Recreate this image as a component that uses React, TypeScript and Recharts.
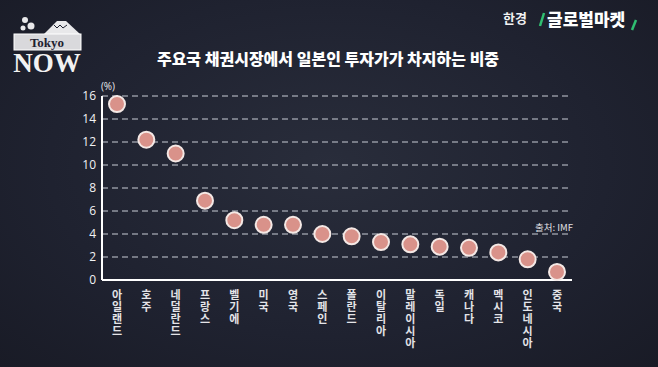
import React from 'react';
import { ComposedChart, Scatter, XAxis, YAxis, CartesianGrid } from 'recharts';

const countries = [
  '아일랜드', '호주', '네덜란드', '프랑스', '벨기에', '미국', '영국', '스페인',
  '폴란드', '이탈리아', '말레이시아', '독일', '캐나다', '멕시코', '인도네시아', '중국',
];
const shares = [15.3, 12.2, 11.0, 6.9, 5.2, 4.8, 4.8, 4.0, 3.8, 3.3, 3.1, 2.9, 2.8, 2.4, 1.8, 0.7];
const yTicks = [0, 2, 4, 6, 8, 10, 12, 14, 16];

const data = countries.map((name, i) => ({ name, value: shares[i] }));

const FONT = '"Noto Sans CJK KR", "Noto Sans", sans-serif';

// each country name is written top-to-bottom, one syllable per line
function VerticalTick(props: any) {
  const { x, y, payload } = props;
  const chars = String(payload.value).split('');
  return (
    <text
      x={x}
      y={y}
      textAnchor="middle"
      fill="#e4e4e8"
      fontSize={11}
      fontWeight={700}
      fontFamily={FONT}
    >
      {chars.map((c, i) => (
        <tspan key={i} x={x} dy={i === 0 ? 11 : 12}>
          {c}
        </tspan>
      ))}
    </text>
  );
}

function Dot(props: any) {
  const { cx, cy } = props;
  return <circle cx={cx} cy={cy} r={8} fill="#d9928a" stroke="#f4e8e5" strokeWidth={2} />;
}

function TokyoLogo() {
  return (
    <g>
      {/* mountain */}
      <polygon points="44,34 57,21 66,21 80,34" fill="#e8e8ea" />
      <polyline points="54,25 57,28 60,25 63,28 67,25" fill="none" stroke="#1e2130" strokeWidth={1} />
      {/* blossoms */}
      <circle cx={25} cy={20} r={3} fill="#e8e8ea" />
      <circle cx={31} cy={26} r={3.5} fill="#e8e8ea" />
      <circle cx={23} cy={28} r={2.5} fill="#e8e8ea" />
      <rect x={14} y={34} width={67} height={16} fill="#d9d9dc" stroke="#ffffff" strokeWidth={1} />
      <text x={47} y={47} textAnchor="middle" fill="#1e2130" fontSize={13} fontWeight={700}
        fontFamily='"Liberation Serif", "DejaVu Serif", serif'>Tokyo</text>
      <text x={47} y={72} textAnchor="middle" fill="#f2f2f2" fontSize={27} fontWeight={700}
        fontFamily='"Liberation Serif", "DejaVu Serif", serif'>NOW</text>
    </g>
  );
}

export default function App() {
  return (
    <div
      style={{
        position: 'absolute',
        left: 0,
        top: 0,
        width: 658,
        height: 367,
        background: 'radial-gradient(ellipse at 50% 45%, #292d3b 0%, #1f2230 60%, #191b26 100%)',
        overflow: 'hidden',
      }}
    >
      <svg width={658} height={367} style={{ position: 'absolute', left: 0, top: 0 }}>
        <TokyoLogo />
        <text x={503} y={23} fill="#f2f2f2" fontSize={13} fontWeight={700} fontFamily={FONT}>한경</text>
        <line x1={540} y1={26} x2={544} y2={13} stroke="#2fbf71" strokeWidth={2.5} />
        <text x={547} y={26} fill="#ffffff" fontSize={17} fontWeight={900} fontFamily={FONT}>글로벌마켓</text>
        <line x1={632} y1={30} x2={636} y2={20} stroke="#2fbf71" strokeWidth={2.5} />
        <text x={328} y={65} textAnchor="middle" fill="#ffffff" fontSize={16} fontWeight={900}
          fontFamily={FONT}>주요국 채권시장에서 일본인 투자가가 차지하는 비중</text>
        <text x={108} y={90} textAnchor="middle" fill="#e8e8ec" fontSize={10} fontFamily='"Open Sans", sans-serif'>(%)</text>
        <text x={573} y={231} textAnchor="end" fill="#e0e0e4" fontSize={9.5} fontFamily={FONT}>출처: IMF</text>
      </svg>
      <div style={{ position: 'absolute', left: 0, top: 0 }}>
        <ComposedChart
          width={658}
          height={367}
          data={data}
          margin={{ top: 96, right: 86, bottom: 7, left: 72 }}
        >
          <CartesianGrid vertical={false} stroke="#c9cdd6" strokeDasharray="6 4" strokeWidth={1} />
          <XAxis
            dataKey="name"
            type="category"
            interval={0}
            height={80}
            padding={{ left: 15, right: 15 }}
            axisLine={{ stroke: '#ffffff', strokeWidth: 2 }}
            tickLine={false}
            tick={<VerticalTick />}
          />
          <YAxis
            type="number"
            domain={[0, 16]}
            ticks={yTicks}
            width={30}
            axisLine={{ stroke: '#ffffff', strokeWidth: 2 }}
            tickLine={false}
            tickSize={0}
            tickMargin={6}
            tick={{ fill: '#f2f2f4', fontSize: 12, fontWeight: 500, fontFamily: '"Open Sans", sans-serif' }}
          />
          <Scatter dataKey="value" shape={<Dot />} isAnimationActive={false} />
        </ComposedChart>
      </div>
    </div>
  );
}
